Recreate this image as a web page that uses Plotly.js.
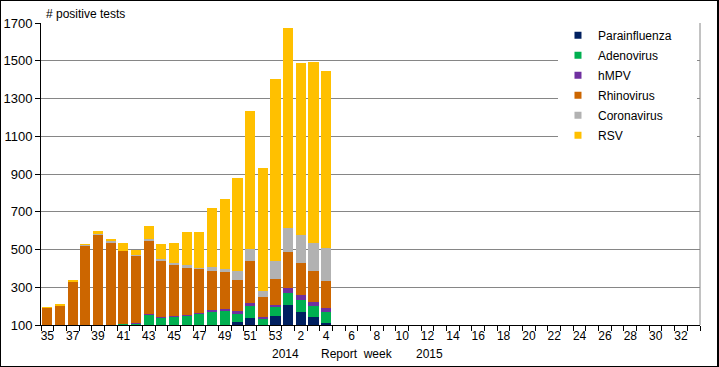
<!DOCTYPE html>
<html>
<head>
<meta charset="utf-8">
<script src="https://cdn.plot.ly/plotly-3.0.1.min.js"></script>
<style>
  html, body { margin: 0; padding: 0; background: #fff; }
  #wrap { position: relative; width: 719px; height: 367px; }
  #chart { position: absolute; left: 0; top: 0; width: 719px; height: 367px; }
  #frame { position: absolute; left: 0; top: 0; width: 719px; height: 367px; box-sizing: border-box;
           border-style: solid; border-color: #000; border-width: 1px 2px 1px 1px; pointer-events: none; }
</style>
</head>
<body>
<div id="wrap"><div id="chart"></div><div id="frame"></div></div>
<script>
// Report weeks (2014/2015 season)
const weeks = ["35","36","37","38","39","40","41","42","43","44","45","46","47","48","49","50","51","52","53",
  "1","2","3","4","5","6","7","8","9","10","11","12","13","14","15","16","17","18","19","20",
  "21","22","23","24","25","26","27","28","29","30","31","32","33"];
const weekLabels = ["35","","37","","39","","41","","43","","45","","47","","49","","51","","53",
  "","2","","4","","6","","8","","10","","12","","14","","16","","18","","20",
  "","22","","24","","26","","28","","30","","32",""];
// weeks with reported data (35 .. 4)
const dataWeeks = weeks.slice(0, 23);

const seriesNames = ["Parainfluenza","Adenovirus","hMPV","Rhinovirus","Coronavirus","RSV"];
const seriesColors = ["#002060","#00B050","#7030A0","#CC6600","#B2B2B2","#FFC000"];

const parainfluenza = [20,20,25,30,35,40,45,50,55,60,65,70,75,80,90,116,137,95,148,206,169,143,111];
const adenovirus    = [35,40,45,45,45,50,60,57,98,79,78,80,84,89,84,44,66,37,48,64,66,60,58];
const hmpv          = [3,3,3,3,3,3,2,5,7,5,3,2,5,11,11,14,14,11,10,27,26,19,23];
const rhinovirus    = [132,137,256,443,496,444,386,355,387,297,274,252,231,208,197,166,224,106,139,192,169,166,142];
const coronavirus   = [1,3,1,1,1,10,1,6,7,7,10,15,7,17,16,44,60,32,96,127,149,145,176];
const rsv           = [5,8,10,9,20,11,41,26,68,83,107,176,193,313,371,496,734,651,963,1059,910,963,937];

const seriesValues = [parainfluenza, adenovirus, hmpv, rhinovirus, coronavirus, rsv];

const yTicks = [100,300,500,700,900,1100,1300,1500,1700];

const traces = [];
seriesValues.forEach((vals, i) => {
  traces.push({
    type: "bar", x: dataWeeks, y: vals, name: seriesNames[i],
    marker: { color: seriesColors[i], line: { width: 0 } },
    showlegend: false, hoverinfo: "x+y+name"
  });
});
// legend entries (small square keys)
seriesNames.forEach((n, i) => {
  traces.push({
    type: "scatter", mode: "markers", x: [null], y: [null], name: n,
    legendgroup: "g" + i,
    marker: { symbol: "square", size: 7, color: seriesColors[i] },
    showlegend: true
  });
});

const font = { family: "Liberation Sans, Arial, sans-serif", color: "#000" };

const layout = {
  width: 719, height: 367,
  margin: { l: 41, r: 19, t: 23, b: 42, pad: 0 },
  paper_bgcolor: "#fff", plot_bgcolor: "#fff",
  barmode: "stack", bargap: 0.2,
  font: Object.assign({ size: 12 }, font),
  showlegend: true,
  legend: {
    x: 0.7845, xanchor: "left", y: 1.0076, yanchor: "top",
    bgcolor: "rgba(0,0,0,0)", borderwidth: 0,
    font: Object.assign({ size: 12 }, font),
    traceorder: "grouped", tracegroupgap: 1,
    itemwidth: 30
  },
  xaxis: {
    type: "category", categoryorder: "array", categoryarray: weeks,
    range: [-0.5, weeks.length - 0.5], fixedrange: true,
    tickmode: "array", tickvals: weeks, ticktext: weekLabels,
    tickson: "boundaries", ticks: "outside", ticklen: 5, tickwidth: 1, tickcolor: "#000",
    showline: true, linecolor: "#000", linewidth: 1,
    showgrid: false, zeroline: false,
    tickfont: Object.assign({ size: 12 }, font),
    tickangle: 0
  },
  yaxis: {
    range: [100, 1700], fixedrange: true,
    tickmode: "array", tickvals: yTicks,
    ticks: "outside", ticklen: 5, tickwidth: 1, tickcolor: "#000",
    showline: true, linecolor: "#000", linewidth: 1,
    showgrid: true, gridcolor: "#868686", gridwidth: 1,
    zeroline: false,
    tickfont: Object.assign({ size: 13 }, font)
  },
  shapes: [
    { type: "rect", xref: "paper", yref: "paper", x0: 0.7845, x1: 0.9955, y0: 0.579, y1: 0.990,
      fillcolor: "#fff", line: { width: 0 }, layer: "above" },
    { type: "line", xref: "paper", yref: "paper", x0: 1, x1: 1, y0: 0, y1: 1,
      line: { color: "#868686", width: 1 }, layer: "above" }
  ],
  annotations: [
    { text: "# positive tests", xref: "paper", yref: "paper", x: 0.004, y: 1.03,
      xanchor: "left", yanchor: "middle", showarrow: false, font: Object.assign({ size: 12 }, font) },
    { text: "2014", xref: "paper", yref: "paper", x: 0.371, y: -0.096,
      xanchor: "center", yanchor: "middle", showarrow: false, font: Object.assign({ size: 12 }, font) },
    { text: "Report&nbsp; week", xref: "paper", yref: "paper", x: 0.480, y: -0.096,
      xanchor: "center", yanchor: "middle", showarrow: false, font: Object.assign({ size: 12 }, font) },
    { text: "2015", xref: "paper", yref: "paper", x: 0.5895, y: -0.096,
      xanchor: "center", yanchor: "middle", showarrow: false, font: Object.assign({ size: 12 }, font) }
  ]
};

Plotly.newPlot("chart", traces, layout, { staticPlot: true, displayModeBar: false });
</script>
</body>
</html>
